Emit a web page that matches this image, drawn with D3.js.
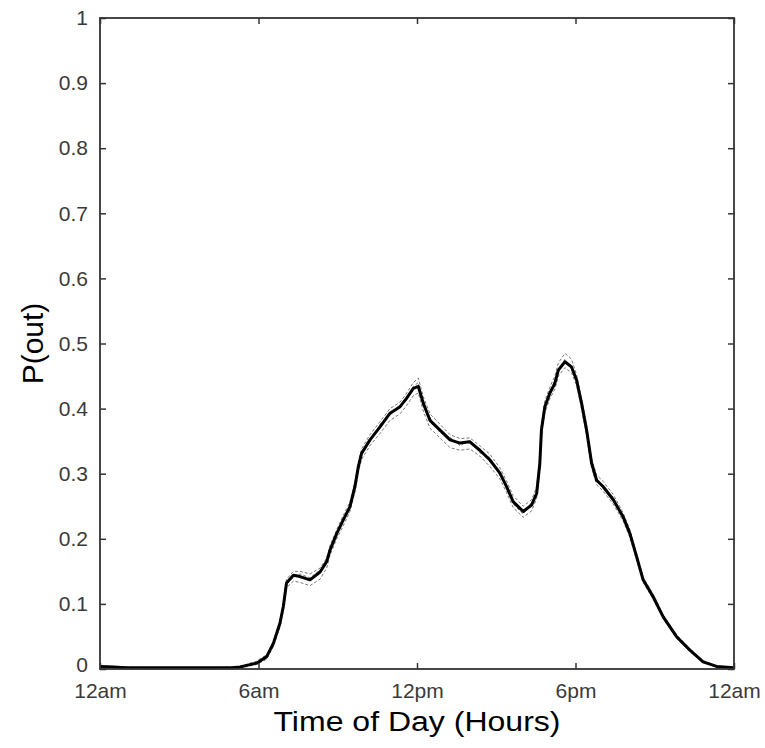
<!DOCTYPE html>
<html><head><meta charset="utf-8">
<script src="https://cdn.jsdelivr.net/npm/d3@7/dist/d3.min.js"></script>
<style>
html,body{margin:0;padding:0;background:#fff;}
svg{display:block;}
</style></head>
<body>
<svg id="chart" width="765" height="748"></svg>
<script>
// ---- data ----
const hours = [0,0.5,1,2,3,4,5,5.3,5.6,5.93,6.31,6.56,6.81,6.94,7.06,7.32,7.57,7.95,8.33,8.58,8.71,8.96,9.21,9.46,9.65,9.78,9.90,10.22,10.60,10.98,11.36,11.61,11.86,12.05,12.24,12.49,12.87,13.25,13.63,14.00,14.38,14.76,15.14,15.39,15.64,16.02,16.34,16.53,16.65,16.71,16.84,17.03,17.22,17.35,17.60,17.85,18.04,18.23,18.42,18.61,18.80,19.05,19.43,19.80,20.06,20.31,20.56,20.94,21.32,21.82,22.33,22.83,23.34,24];
const meanOut = [0.004,0.003,0.002,0.002,0.002,0.002,0.002,0.003,0.006,0.009,0.019,0.039,0.070,0.096,0.132,0.144,0.142,0.137,0.149,0.165,0.183,0.208,0.229,0.249,0.280,0.311,0.331,0.352,0.372,0.393,0.403,0.416,0.431,0.434,0.408,0.382,0.367,0.352,0.347,0.349,0.336,0.321,0.301,0.280,0.257,0.242,0.252,0.270,0.316,0.367,0.403,0.424,0.439,0.459,0.472,0.464,0.444,0.408,0.367,0.316,0.290,0.280,0.260,0.234,0.208,0.173,0.137,0.111,0.080,0.050,0.029,0.011,0.004,0.002];
const runA = [0.005,0.004,0.003,0.002,0.002,0.002,0.003,0.004,0.008,0.012,0.022,0.043,0.075,0.102,0.138,0.150,0.150,0.146,0.155,0.170,0.190,0.214,0.236,0.256,0.288,0.318,0.338,0.360,0.380,0.400,0.410,0.424,0.440,0.447,0.418,0.392,0.376,0.360,0.354,0.355,0.343,0.330,0.309,0.289,0.266,0.250,0.260,0.280,0.326,0.376,0.412,0.433,0.450,0.470,0.485,0.476,0.452,0.415,0.374,0.322,0.298,0.288,0.268,0.240,0.214,0.178,0.141,0.115,0.083,0.053,0.031,0.013,0.005,0.002];
const runB = [0.003,0.002,0.002,0.001,0.001,0.001,0.001,0.002,0.004,0.007,0.015,0.034,0.064,0.090,0.125,0.135,0.133,0.128,0.138,0.155,0.175,0.200,0.220,0.242,0.272,0.302,0.322,0.343,0.362,0.382,0.392,0.405,0.420,0.424,0.396,0.370,0.355,0.340,0.336,0.338,0.327,0.311,0.292,0.271,0.248,0.233,0.243,0.262,0.306,0.358,0.394,0.415,0.430,0.450,0.463,0.455,0.436,0.400,0.358,0.309,0.283,0.273,0.253,0.228,0.202,0.168,0.133,0.107,0.077,0.047,0.027,0.010,0.003,0.001];
const runC = [0.004,0.003,0.002,0.002,0.002,0.002,0.002,0.003,0.007,0.010,0.020,0.041,0.068,0.099,0.130,0.141,0.146,0.140,0.152,0.162,0.186,0.205,0.232,0.246,0.284,0.308,0.334,0.349,0.376,0.390,0.406,0.413,0.434,0.440,0.404,0.386,0.363,0.356,0.343,0.352,0.332,0.325,0.297,0.284,0.253,0.238,0.256,0.266,0.320,0.362,0.408,0.420,0.444,0.455,0.476,0.460,0.448,0.404,0.371,0.312,0.294,0.277,0.264,0.231,0.211,0.170,0.140,0.108,0.082,0.048,0.030,0.010,0.004,0.002];
const xTickValues = [0,6,12,18,24];
const xTickLabels = ["12am","6am","12pm","6pm","12am"];
const yTickValues = [0,0.1,0.2,0.3,0.4,0.5,0.6,0.7,0.8,0.9,1];
const yTickLabels = ["0","0.1","0.2","0.3","0.4","0.5","0.6","0.7","0.8","0.9","1"];

// ---- layout ----
const L = 100, R = 734, T = 18, B = 669;
const font = "'Liberation Sans', Arial, Helvetica, sans-serif";
const svg = d3.select("#chart");
const x = d3.scaleLinear().domain([0,24]).range([L,R]);
const y = d3.scaleLinear().domain([0,1]).range([B,T]);

// gray replicate runs
const line = d3.line().x((d,i)=>x(hours[i])).y(d=>y(d));
[runA, runB, runC].forEach(r => {
  svg.append("path").datum(r).attr("d", line)
    .attr("fill","none").attr("stroke","#555").attr("stroke-width",1)
    .attr("stroke-dasharray","3,2").attr("opacity",0.8);
});
// main curve
svg.append("path").datum(meanOut).attr("d", line)
  .attr("fill","none").attr("stroke","#000").attr("stroke-width",3)
  .attr("stroke-linejoin","round");

// axes
const axColor = "#333";
const yAxis = d3.axisLeft(y).tickValues(yTickValues)
  .tickFormat((d,i)=>yTickLabels[i]).tickSizeInner(-6).tickSizeOuter(0).tickPadding(12);
const gy = svg.append("g").attr("transform",`translate(${L},0)`).call(yAxis);
const yR = d3.axisRight(y).tickValues(yTickValues).tickFormat("").tickSizeInner(-6).tickSizeOuter(0);
const gyr = svg.append("g").attr("transform",`translate(${R},0)`).call(yR);
const xAxis = d3.axisBottom(x).tickValues(xTickValues)
  .tickFormat((d,i)=>xTickLabels[i]).tickSizeInner(-6).tickSizeOuter(0).tickPadding(14);
const gx = svg.append("g").attr("transform",`translate(0,${B})`).call(xAxis);
const xT = d3.axisTop(x).tickValues(xTickValues).tickFormat("").tickSizeInner(-6).tickSizeOuter(0);
const gxt = svg.append("g").attr("transform",`translate(0,${T})`).call(xT);
[gy,gyr,gx,gxt].forEach(g=>{
  g.select(".domain").remove();
  g.selectAll(".tick line").attr("stroke",axColor).attr("stroke-width",1.5);
  g.selectAll("text").attr("font-family",font).attr("font-size",21).attr("fill","#3a3a3a");
});
// lift the "0" label slightly so it sits above the "12am" label, as in the reference
gy.selectAll(".tick text").filter(d=>d===0).attr("dy","0.1em");

// box
svg.append("rect").attr("x",L).attr("y",T).attr("width",R-L).attr("height",B-T)
  .attr("fill","none").attr("stroke",axColor).attr("stroke-width",1.8);

// axis titles
svg.append("text").attr("x",(L+R)/2).attr("y",731).attr("text-anchor","middle")
  .attr("font-family",font).attr("font-size",27).attr("fill","#000")
  .attr("textLength",287).attr("lengthAdjust","spacingAndGlyphs")
  .text("Time of Day (Hours)");
svg.append("text").attr("transform",`translate(43,${(T+B)/2}) rotate(-90)`)
  .attr("text-anchor","middle").attr("font-family",font).attr("font-size",30)
  .attr("fill","#000").text("P(out)");
</script>
</body></html>
